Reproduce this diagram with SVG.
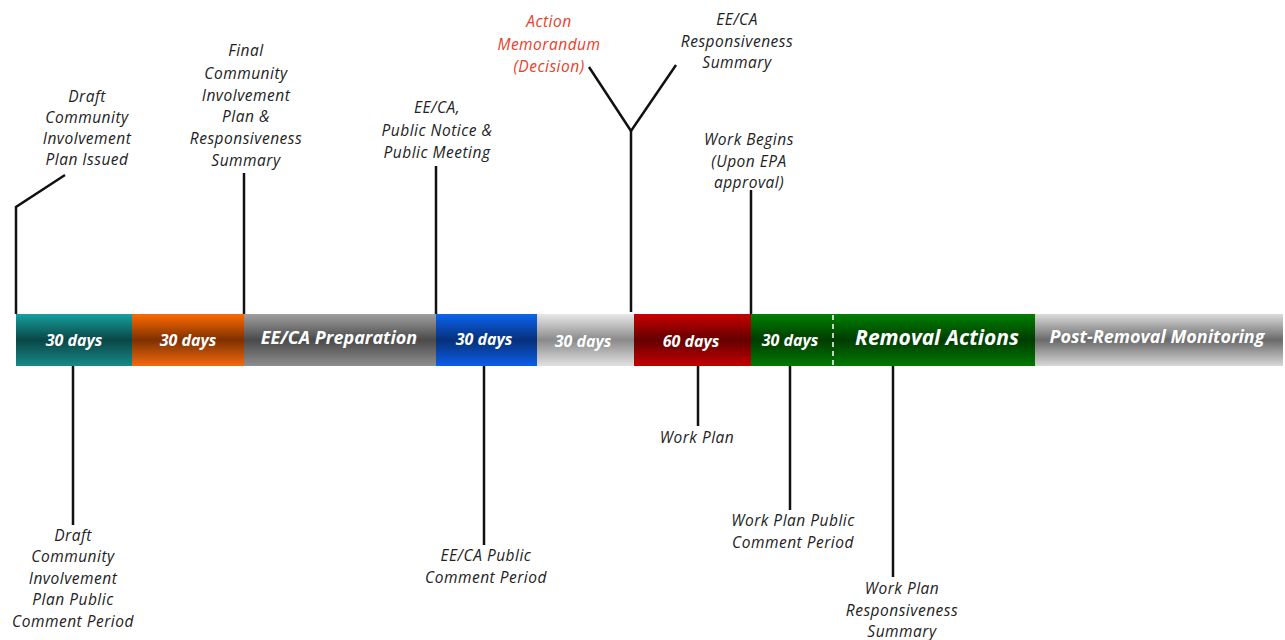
<svg xmlns="http://www.w3.org/2000/svg" width="1285" height="640" viewBox="0 0 1285 640">
<style>
.lbl{font-family:"Open Sans","Liberation Sans",sans-serif;font-style:italic;font-size:15.5px;letter-spacing:0.5px;fill:#222;text-anchor:middle}
.red{fill:#e8402a}
.bt{font-family:"Open Sans","Liberation Sans",sans-serif;font-style:italic;font-weight:bold;fill:#fff;text-anchor:middle}
.d{font-size:16px}
.ln{stroke:#111;stroke-width:2.5;fill:none}
</style>
<defs>
<linearGradient id="gTeal" x1="0" y1="0" x2="0" y2="1"><stop offset="0" stop-color="#16a09e"/><stop offset="0.5" stop-color="#0a4646"/><stop offset="1" stop-color="#168a88"/></linearGradient>
<linearGradient id="gOr" x1="0" y1="0" x2="0" y2="1"><stop offset="0" stop-color="#ff6a00"/><stop offset="0.5" stop-color="#7e3000"/><stop offset="1" stop-color="#f26a10"/></linearGradient>
<linearGradient id="gGray" x1="0" y1="0" x2="0" y2="1"><stop offset="0" stop-color="#a0a0a0"/><stop offset="0.5" stop-color="#4a4a4a"/><stop offset="1" stop-color="#8e8e8e"/></linearGradient>
<linearGradient id="gBlue" x1="0" y1="0" x2="0" y2="1"><stop offset="0" stop-color="#0c64f0"/><stop offset="0.5" stop-color="#06307a"/><stop offset="1" stop-color="#0c5ee6"/></linearGradient>
<linearGradient id="gLt" x1="0" y1="0" x2="0" y2="1"><stop offset="0" stop-color="#e8e8e8"/><stop offset="0.5" stop-color="#8a8a8a"/><stop offset="1" stop-color="#e2e2e2"/></linearGradient>
<linearGradient id="gRed" x1="0" y1="0" x2="0" y2="1"><stop offset="0" stop-color="#c80000"/><stop offset="0.5" stop-color="#640000"/><stop offset="1" stop-color="#c40000"/></linearGradient>
<linearGradient id="gGrn" x1="0" y1="0" x2="0" y2="1"><stop offset="0" stop-color="#008000"/><stop offset="0.5" stop-color="#003c00"/><stop offset="1" stop-color="#007a00"/></linearGradient>
<linearGradient id="gPost" x1="0" y1="0" x2="0" y2="1"><stop offset="0" stop-color="#dcdcdc"/><stop offset="0.5" stop-color="#6a6a6a"/><stop offset="1" stop-color="#d8d8d8"/></linearGradient>
</defs>
<rect width="1285" height="640" fill="#fff"/>

<g id="timeline">
<g id="seg-teal"><rect x="16" y="314" width="116" height="52" fill="url(#gTeal)"/><text class="bt d" x="74" y="346">30 days</text></g>
<g id="seg-orange"><rect x="132" y="314" width="112" height="52" fill="url(#gOr)"/><text class="bt d" x="188" y="346">30 days</text></g>
<g id="seg-prep"><rect x="244" y="314" width="192" height="52" fill="url(#gGray)"/><text class="bt" x="339" y="344" style="font-size:18px">EE/CA Preparation</text></g>
<g id="seg-blue"><rect x="436" y="314" width="101" height="52" fill="url(#gBlue)"/><text class="bt d" x="484" y="345">30 days</text></g>
<g id="seg-light"><rect x="537" y="314" width="97" height="52" fill="url(#gLt)"/><text class="bt d" x="583" y="347">30 days</text></g>
<g id="seg-red"><rect x="634" y="314" width="117" height="52" fill="url(#gRed)"/><text class="bt d" x="691" y="347">60 days</text></g>
<g id="seg-green"><rect x="751" y="314" width="284" height="52" fill="url(#gGrn)"/><text class="bt d" x="790" y="346">30 days</text><line x1="833" y1="315" x2="833" y2="366" stroke="#fff" stroke-width="1.5" stroke-dasharray="5,4"/><text class="bt" x="937" y="345" style="font-size:21px">Removal Actions</text></g>
<g id="seg-post"><rect x="1035" y="314" width="248" height="52" fill="url(#gPost)"/><text class="bt" x="1157" y="343" style="font-size:18px">Post-Removal Monitoring</text></g>
</g>

<g id="connectors">
<polyline class="ln" points="16,314 16,207 65,175"/>
<line class="ln" x1="244" y1="173" x2="244" y2="314"/>
<line class="ln" x1="436" y1="166" x2="436" y2="314"/>
<polyline class="ln" points="589,67 631,131 676,65"/>
<line class="ln" x1="631" y1="131" x2="631" y2="312"/>
<line class="ln" x1="751" y1="190" x2="751" y2="314"/>
<line class="ln" x1="73" y1="366" x2="73" y2="525"/>
<line class="ln" x1="484" y1="366" x2="484" y2="545"/>
<line class="ln" x1="698" y1="366" x2="698" y2="426"/>
<line class="ln" x1="790" y1="366" x2="790" y2="510"/>
<line class="ln" x1="893" y1="366" x2="893" y2="577"/>
</g>

<g id="lbl-draft-cip"><text class="lbl"><tspan x="87" y="102">Draft</tspan><tspan x="87" y="123">Community</tspan><tspan x="87" y="144">Involvement</tspan><tspan x="87" y="165">Plan Issued</tspan></text></g>
<g id="lbl-final-cip"><text class="lbl"><tspan x="246" y="56">Final</tspan><tspan x="246" y="79">Community</tspan><tspan x="246" y="101">Involvement</tspan><tspan x="246" y="122">Plan &amp;</tspan><tspan x="246" y="144">Responsiveness</tspan><tspan x="246" y="166">Summary</tspan></text></g>
<g id="lbl-eeca-notice"><text class="lbl"><tspan x="437" y="113">EE/CA,</tspan><tspan x="437" y="136">Public Notice &amp;</tspan><tspan x="437" y="158">Public Meeting</tspan></text></g>
<g id="lbl-action-memo"><text class="lbl red"><tspan x="549" y="27">Action</tspan><tspan x="549" y="50">Memorandum</tspan><tspan x="549" y="72">(Decision)</tspan></text></g>
<g id="lbl-eeca-rs"><text class="lbl"><tspan x="737" y="25">EE/CA</tspan><tspan x="737" y="47">Responsiveness</tspan><tspan x="737" y="68">Summary</tspan></text></g>
<g id="lbl-work-begins"><text class="lbl"><tspan x="749" y="145">Work Begins</tspan><tspan x="749" y="167">(Upon EPA</tspan><tspan x="749" y="188">approval)</tspan></text></g>
<g id="lbl-draft-cip-pcp"><text class="lbl"><tspan x="73" y="541">Draft</tspan><tspan x="73" y="562">Community</tspan><tspan x="73" y="584">Involvement</tspan><tspan x="73" y="605">Plan Public</tspan><tspan x="73" y="627">Comment Period</tspan></text></g>
<g id="lbl-eeca-pcp"><text class="lbl"><tspan x="486" y="561">EE/CA Public</tspan><tspan x="486" y="583">Comment Period</tspan></text></g>
<g id="lbl-work-plan"><text class="lbl" x="697" y="443">Work Plan</text></g>
<g id="lbl-wp-pcp"><text class="lbl"><tspan x="793" y="526">Work Plan Public</tspan><tspan x="793" y="548">Comment Period</tspan></text></g>
<g id="lbl-wp-rs"><text class="lbl"><tspan x="902" y="594">Work Plan</tspan><tspan x="902" y="616">Responsiveness</tspan><tspan x="902" y="637">Summary</tspan></text></g>
</svg>
